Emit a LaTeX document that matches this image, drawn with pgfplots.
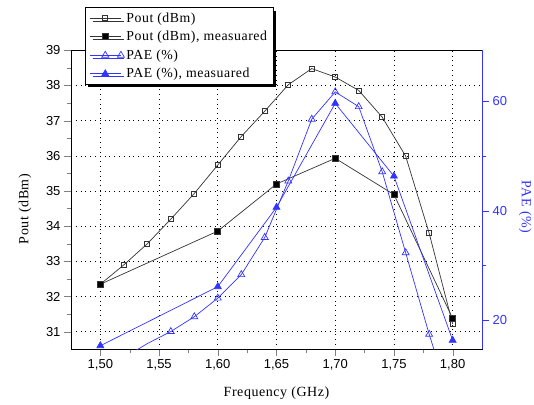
\documentclass[border=0pt]{standalone}
\usepackage{pgfplots}
\pgfplotsset{compat=1.18}
\usepackage{fontspec}
\setmainfont{Liberation Serif}
\newfontfamily\tickfont{Liberation Sans}
\newfontfamily\labfont[LetterSpace=4]{Liberation Serif}
\usetikzlibrary{shadows}
\definecolor{paeblue}{RGB}{51,51,255}

\pgfplotsset{
  common/.style={
    width=411pt, height=299pt, scale only axis,
    at={(0,0)}, anchor=south west,
    xmin=1.475, xmax=1.825,
    tick align=outside,
    major tick length=7pt, minor tick length=4pt,
    /pgf/number format/assume math mode=true,
    ticklabel style={font=\tickfont\fontsize{13}{15}\selectfont},
    label style={font=\labfont\fontsize{14}{16}\selectfont},
  },
}

\begin{document}
\begin{tikzpicture}
\useasboundingbox (-71pt,-54.7pt) rectangle (463pt,349.3pt);

% left axis: Pout
\begin{axis}[common,
    ymin=30.5, ymax=39,
    ytick={31,32,...,39}, minor y tick num=1,
    xtick={1.50,1.55,1.60,1.65,1.70,1.75,1.80}, minor x tick num=1,
    xtick pos=left, ytick pos=left,
    xticklabel style={/pgf/number format/.cd, fixed, fixed zerofill, precision=2, use comma},
    grid=major,
    major grid style={black, line width=0.6pt, dash pattern=on 0.8pt off 4pt},
    xlabel={Frequency (GHz)},
    xlabel style={at={(axis description cs:0.5,-0.146)}, anchor=center},
    ylabel={Pout (dBm)},
    ylabel style={at={(axis description cs:-0.112,0.469)}, anchor=center},
    every axis plot/.append style={line width=0.7pt},
]
% Pout (dBm), simulated
\addplot[black!80, mark=square, mark size=2.5pt, mark options={solid, fill=white}] coordinates {
  (1.50,32.35) (1.52,32.90) (1.54,33.50) (1.56,34.20) (1.58,34.93) (1.60,35.74)
  (1.62,36.55) (1.64,37.27) (1.66,38.02) (1.68,38.48) (1.70,38.24) (1.72,37.86)
  (1.74,37.10) (1.76,35.99) (1.78,33.80) (1.80,31.22)
};
% Pout (dBm), measured
\addplot[black!80, mark=square*, mark size=3pt, mark options={solid, fill=black}] coordinates {
  (1.50,32.35) (1.60,33.86) (1.65,35.20) (1.70,35.93) (1.75,34.90) (1.80,31.38)
};
\end{axis}

% right axis: PAE
\begin{axis}[common,
    ymin=14.65, ymax=69.3,
    axis x line=none,
    axis y line*=right,
    y axis line style={paeblue, line width=0.9pt},
    ytick={20,40,60}, minor ytick={30,50},
    y tick style={paeblue},
    yticklabel style={paeblue},
    ylabel={PAE (\%)},
    ylabel style={paeblue, at={(axis description cs:1.105,0.476)}, anchor=center, rotate=180},
    every axis plot/.append style={line width=0.7pt},
    legend image code/.code={
      \draw[mark repeat=2, mark phase=2] plot coordinates {(0cm,0cm) (0.55cm,0cm) (1.1cm,0cm)};
    },
    legend style={
      at={(0.034,1.144)}, anchor=north west,
      draw=black, fill=white, line width=0.6pt,
      font=\labfont\fontsize{13.8}{15}\selectfont,
      inner xsep=4pt, inner ysep=3pt, row sep=3.5pt,
      general shadow={shadow xshift=3pt, shadow yshift=-3pt, fill=black},
    },
    legend cell align=left,
]
\addlegendimage{black!80, line width=0.7pt, mark=square, mark size=2.5pt, mark options={solid, fill=white}}
\addlegendimage{black!80, line width=0.7pt, mark=square*, mark size=3pt, mark options={solid, fill=black}}
% PAE (%), simulated
\addplot[paeblue, mark=triangle, mark size=4pt, mark options={solid, fill=white}, mark indices={2,...,14}] coordinates {
  (1.52,13.10) (1.54,15.70) (1.56,17.90) (1.58,20.60) (1.60,24.00) (1.62,28.30)
  (1.64,35.10) (1.66,45.40) (1.68,56.70) (1.70,61.70) (1.72,59.00) (1.74,47.10)
  (1.76,32.30) (1.78,17.40) (1.80,3.80)
};
% PAE (%), measured
\addplot[paeblue, mark=triangle*, mark size=4pt, mark options={solid, fill=paeblue}] coordinates {
  (1.50,15.30) (1.60,26.10) (1.65,40.60) (1.70,59.60) (1.75,46.30) (1.80,16.30)
};
\legend{{Pout (dBm)}, {Pout (dBm), measuared}, {PAE (\%)}, {PAE (\%), measuared}}
\end{axis}
\end{tikzpicture}
\end{document}
